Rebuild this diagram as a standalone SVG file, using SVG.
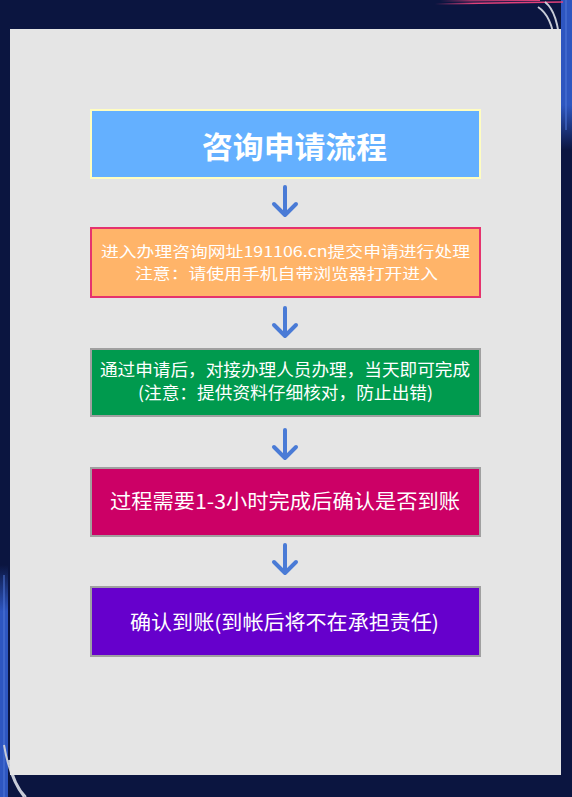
<svg xmlns="http://www.w3.org/2000/svg" width="572" height="797" viewBox="0 0 572 797">
<defs>
<style>
.box{stroke-width:2}
.t{fill:#fff;font-family:"Microsoft YaHei","Noto Sans CJK SC","Noto Sans",sans-serif;text-anchor:middle}
.arr{fill:none;stroke:#4A7BD6;stroke-width:4;stroke-linecap:round;stroke-linejoin:round}
.deco{fill:none;stroke:#C8CCD8;stroke-width:2}
</style>
<linearGradient id="rb" x1="0" y1="0" x2="0" y2="1">
<stop offset="0" stop-color="#2E56C0"/>
<stop offset="0.7" stop-color="#2E56C0"/>
<stop offset="1" stop-color="#0B1540"/>
</linearGradient>
<linearGradient id="lb" x1="0" y1="1" x2="0" y2="0">
<stop offset="0" stop-color="#2E56C0"/>
<stop offset="0.8" stop-color="#2E56C0"/>
<stop offset="1" stop-color="#0B1540"/>
</linearGradient>
<linearGradient id="pk" x1="0" y1="0" x2="1" y2="0">
<stop offset="0" stop-color="#E0407A" stop-opacity="0"/>
<stop offset="0.3" stop-color="#E0407A"/>
<stop offset="1" stop-color="#E0407A"/>
</linearGradient>
</defs>
<rect x="0" y="0" width="572" height="797" fill="#0B1540"/>
<g id="decoration">
<rect x="561" y="0" width="11" height="150" fill="url(#rb)"/>
<line x1="566" y1="0" x2="566" y2="130" stroke="#5078D8" stroke-width="1"/>
<rect x="0" y="565" width="8" height="232" fill="url(#lb)"/>
<line x1="4" y1="575" x2="4" y2="797" stroke="#5078D8" stroke-width="1"/>
<line x1="435" y1="4" x2="563" y2="2" stroke="url(#pk)" stroke-width="1.5"/>
<line x1="440" y1="1" x2="540" y2="0.5" stroke="url(#pk)" stroke-width="1"/>
<path class="deco" d="M545 2 Q 558 12 560 47"/>
<path class="deco" d="M538 7 Q 552 16 555 44"/>
<path class="deco" d="M4 745 Q 10 780 24 797"/>
<path class="deco" d="M9 760 Q 14 785 26 797"/>
</g>
<rect x="10" y="29" width="551" height="746" fill="#E5E5E5"/>
<g id="title">
<rect class="box" x="91" y="110" width="389" height="68" fill="#64B0FF" stroke="#FFFDC0"/>
<text class="t" x="294.5" y="158" font-size="30" font-weight="bold" textLength="185" lengthAdjust="spacingAndGlyphs">咨询申请流程</text>
</g>
<g id="step1">
<rect class="box" x="91" y="228" width="389" height="69" fill="#FFB469" stroke="#E5336E"/>
<text class="t" x="285.5" y="257" font-size="15" textLength="369" lengthAdjust="spacingAndGlyphs">进入办理咨询网址191106.cn提交申请进行处理</text>
<text class="t" x="286.5" y="279" font-size="15" textLength="303" lengthAdjust="spacingAndGlyphs">注意：请使用手机自带浏览器打开进入</text>
</g>
<g id="step2">
<rect class="box" x="91" y="349" width="389" height="67" fill="#009A4E" stroke="#A0A0A0"/>
<text class="t" x="285" y="376" font-size="17" textLength="370" lengthAdjust="spacingAndGlyphs">通过申请后，对接办理人员办理，当天即可完成</text>
<text class="t" x="285.5" y="399" font-size="17" textLength="295" lengthAdjust="spacingAndGlyphs">(注意：提供资料仔细核对，防止出错)</text>
</g>
<g id="step3">
<rect class="box" x="91" y="468" width="389" height="68" fill="#CC0066" stroke="#A0A0A0"/>
<text class="t" x="285" y="509" font-size="20" textLength="350" lengthAdjust="spacingAndGlyphs">过程需要1-3小时完成后确认是否到账</text>
</g>
<g id="step4">
<rect class="box" x="91" y="587" width="389" height="69" fill="#6600CC" stroke="#A0A0A0"/>
<text class="t" x="284.5" y="630" font-size="20" textLength="309" lengthAdjust="spacingAndGlyphs">确认到账(到帐后将不在承担责任)</text>
</g>
<g id="connectors">
<path class="arr" d="M285 187 V215 M274 204 L285 215 L296 204"/>
<path class="arr" d="M285 308 V336 M274 325 L285 336 L296 325"/>
<path class="arr" d="M285 430 V458 M274 447 L285 458 L296 447"/>
<path class="arr" d="M285 545 V573 M274 562 L285 573 L296 562"/>
</g>
</svg>
